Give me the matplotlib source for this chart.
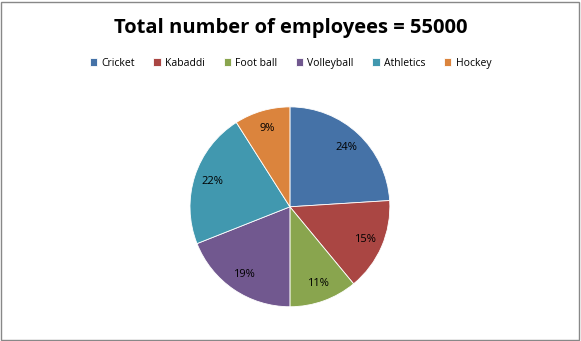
import matplotlib.pyplot as plt
from matplotlib.patches import Rectangle

sports = ['Cricket', 'Kabaddi', 'Foot ball', 'Volleyball', 'Athletics', 'Hockey']
shares = [24, 15, 11, 19, 22, 9]
colors = ['#4572A7', '#AA4643', '#89A54E', '#71588F', '#4198AF', '#DB843D']

plt.rcParams['font.family'] = ['Open Sans', 'DejaVu Sans']

fig = plt.figure(figsize=(5.81, 3.41), dpi=100)
fig.patches.append(Rectangle((0.002, 0.003), 0.995, 0.992, transform=fig.transFigure,
                             fill=False, edgecolor='#888888', linewidth=1))

ax = fig.add_axes([0.327, 0.1, 0.344, 0.587])
wedges, texts, autotexts = ax.pie(shares, colors=colors, startangle=90, counterclock=False,
                                  autopct='%d%%', pctdistance=0.82,
                                  wedgeprops=dict(edgecolor='white', linewidth=0.6),
                                  textprops=dict(fontsize=8, color='black'))
ax.set_xlim(-1, 1)
ax.set_ylim(-1, 1)
ax.set_aspect('equal')

fig.text(0.5, 0.918, 'Total number of employees = 55000', ha='center', va='center',
         fontsize=14.5, fontweight='bold')

fig.legend(wedges, sports, loc='center', bbox_to_anchor=(0.5, 0.815), ncol=6,
           frameon=False, fontsize=7.5, handlelength=0.7, handleheight=0.7,
           handletextpad=0.4, columnspacing=1.8)

plt.savefig('out.png')
plt.close()
